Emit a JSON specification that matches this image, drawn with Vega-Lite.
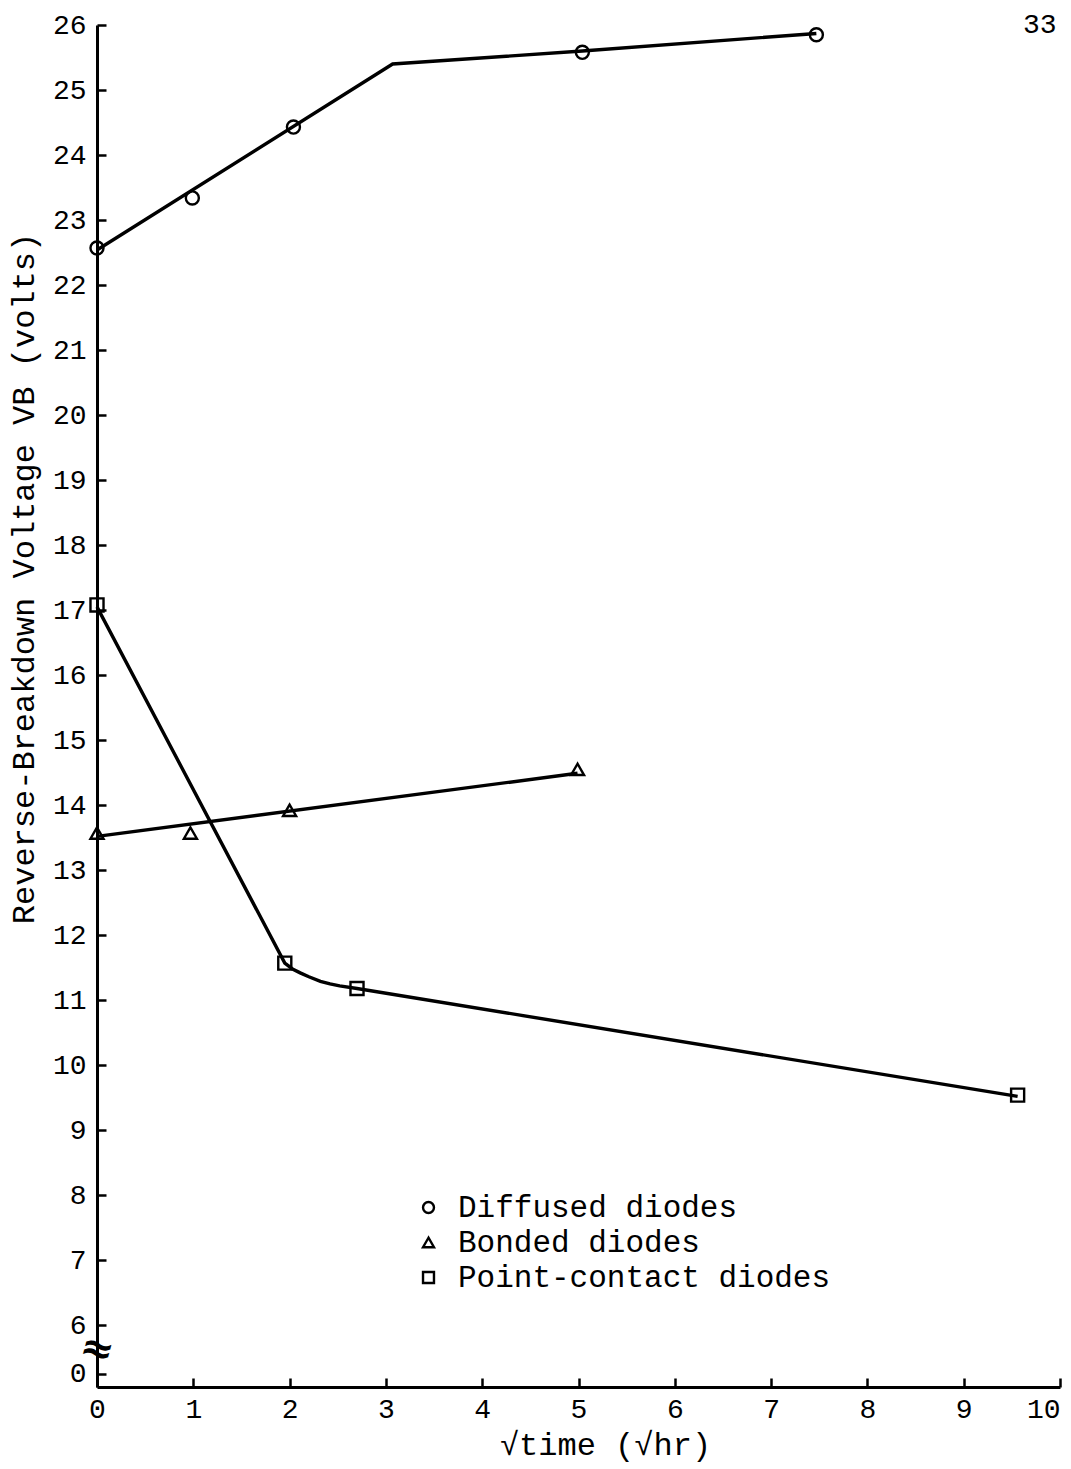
{
  "$schema": "https://vega.github.io/schema/vega-lite/v6.json",
  "width": 963,
  "height": 1362,
  "autosize": "none",
  "padding": {"left": 97, "top": 25, "right": 11, "bottom": 82},
  "background": "white",
  "config": {
    "view": {"stroke": null},
    "font": "Liberation Mono",
    "axis": {
      "grid": false,
      "domainColor": "black",
      "domainWidth": 3,
      "tickColor": "black",
      "tickWidth": 2.5,
      "tickSize": -9,
      "labelPadding": 17,
      "labelFlush": false,
      "labelFont": "Liberation Mono",
      "labelFontSize": 28,
      "labelColor": "black",
      "titleFont": "Liberation Mono",
      "titleFontSize": 32,
      "titleFontWeight": "normal",
      "titleColor": "black"
    }
  },
  "datasets": {
    "pts": [
      {"series": "Diffused diodes", "x": 0, "y": 22.57},
      {"series": "Diffused diodes", "x": 0.99, "y": 23.34},
      {"series": "Diffused diodes", "x": 2.04, "y": 24.43},
      {"series": "Diffused diodes", "x": 5.04, "y": 25.58},
      {"series": "Diffused diodes", "x": 7.47, "y": 25.85},
      {"series": "Bonded diodes", "x": 0, "y": 13.57},
      {"series": "Bonded diodes", "x": 0.97, "y": 13.57},
      {"series": "Bonded diodes", "x": 2.0, "y": 13.92},
      {"series": "Bonded diodes", "x": 4.99, "y": 14.55},
      {"series": "Point-contact diodes", "x": 0, "y": 17.08},
      {"series": "Point-contact diodes", "x": 1.95, "y": 11.57},
      {"series": "Point-contact diodes", "x": 2.7, "y": 11.18},
      {"series": "Point-contact diodes", "x": 9.56, "y": 9.54}
    ],
    "fit": [
      {"series": "Diffused diodes", "o": 1, "x": 0, "y": 22.54},
      {"series": "Diffused diodes", "o": 2, "x": 3.07, "y": 25.4},
      {"series": "Diffused diodes", "o": 3, "x": 5.04, "y": 25.6},
      {"series": "Diffused diodes", "o": 4, "x": 7.47, "y": 25.87},
      {"series": "Bonded diodes", "o": 1, "x": 0, "y": 13.52},
      {"series": "Bonded diodes", "o": 2, "x": 4.99, "y": 14.49},
      {"series": "Point-contact diodes", "o": 1, "x": 0, "y": 17.05},
      {"series": "Point-contact diodes", "o": 2, "x": 1.95, "y": 11.57},
      {"series": "Point-contact diodes", "o": 3, "x": 2.03, "y": 11.48},
      {"series": "Point-contact diodes", "o": 4, "x": 2.11, "y": 11.42},
      {"series": "Point-contact diodes", "o": 5, "x": 2.2, "y": 11.36},
      {"series": "Point-contact diodes", "o": 6, "x": 2.32, "y": 11.29},
      {"series": "Point-contact diodes", "o": 7, "x": 2.42, "y": 11.25},
      {"series": "Point-contact diodes", "o": 8, "x": 2.52, "y": 11.22},
      {"series": "Point-contact diodes", "o": 9, "x": 2.7, "y": 11.18},
      {"series": "Point-contact diodes", "o": 10, "x": 9.56, "y": 9.52}
    ]
  },
  "layer": [
    {
      "data": {"name": "fit"},
      "mark": {"type": "line", "color": "black", "strokeWidth": 3.4},
      "encoding": {
        "x": {"field": "x", "type": "quantitative", "scale": {"domain": [0, 10], "nice": false},
          "axis": {"values": [0,1,2,3,4,5,6,7,8,9,10], "format": "d", "title": "√time (√hr)", "titlePadding": 6, "titleX": 508,
            "labelAlign": {"condition": {"test": "datum.value == 10", "value": "right"}, "value": "center"}}},
        "y": {"field": "y", "type": "quantitative", "scale": {"domain": [5.05, 26], "nice": false, "zero": false},
          "axis": {"values": [5.25,6,7,8,9,10,11,12,13,14,15,16,17,18,19,20,21,22,23,24,25,26],
            "labelExpr": "datum.value < 5.5 ? '0' : format(datum.value, 'd')", "labelPadding": 20,
            "title": "Reverse-Breakdown Voltage VB (volts)", "titleAngle": -90, "titleX": -64, "titleY": 553, "titleBaseline": "alphabetic"}},
        "detail": {"field": "series"},
        "order": {"field": "o"}
      }
    },
    {
      "data": {"name": "pts"},
      "mark": {"type": "point", "filled": false, "color": "black", "strokeWidth": 2.4, "size": 170, "opacity": 1},
      "encoding": {
        "x": {"field": "x", "type": "quantitative"},
        "y": {"field": "y", "type": "quantitative"},
        "shape": {"field": "series", "type": "nominal",
          "scale": {"domain": ["Diffused diodes", "Bonded diodes", "Point-contact diodes"], "range": ["circle", "triangle-up", "square"]},
          "legend": {"orient": "none", "legendX": 316, "legendY": 1167, "title": null,
            "labelFont": "Liberation Mono", "labelFontSize": 31, "labelColor": "black", "labelLimit": 0,
            "symbolSize": 120, "symbolStrokeColor": "black", "symbolStrokeWidth": 2.4, "symbolFillColor": "white",
            "rowPadding": 3, "labelOffset": 14}}
      }
    },
    {
      "data": {"values": [{"x": 9.79, "y": 26, "t": "33"}]},
      "mark": {"type": "text", "fontSize": 28, "font": "Liberation Mono", "color": "black", "baseline": "middle", "align": "center"},
      "encoding": {
        "x": {"field": "x", "type": "quantitative"},
        "y": {"field": "y", "type": "quantitative"},
        "text": {"field": "t"}
      }
    },
    {
      "data": {"values": [{"x": 0, "y": 5.62, "t": "≈"}]},
      "mark": {"type": "text", "fontSize": 40, "font": "DejaVu Sans", "fontWeight": "bold", "color": "black", "baseline": "middle", "align": "center", "angle": 15},
      "encoding": {
        "x": {"field": "x", "type": "quantitative"},
        "y": {"field": "y", "type": "quantitative"},
        "text": {"field": "t"}
      }
    }
  ]
}
